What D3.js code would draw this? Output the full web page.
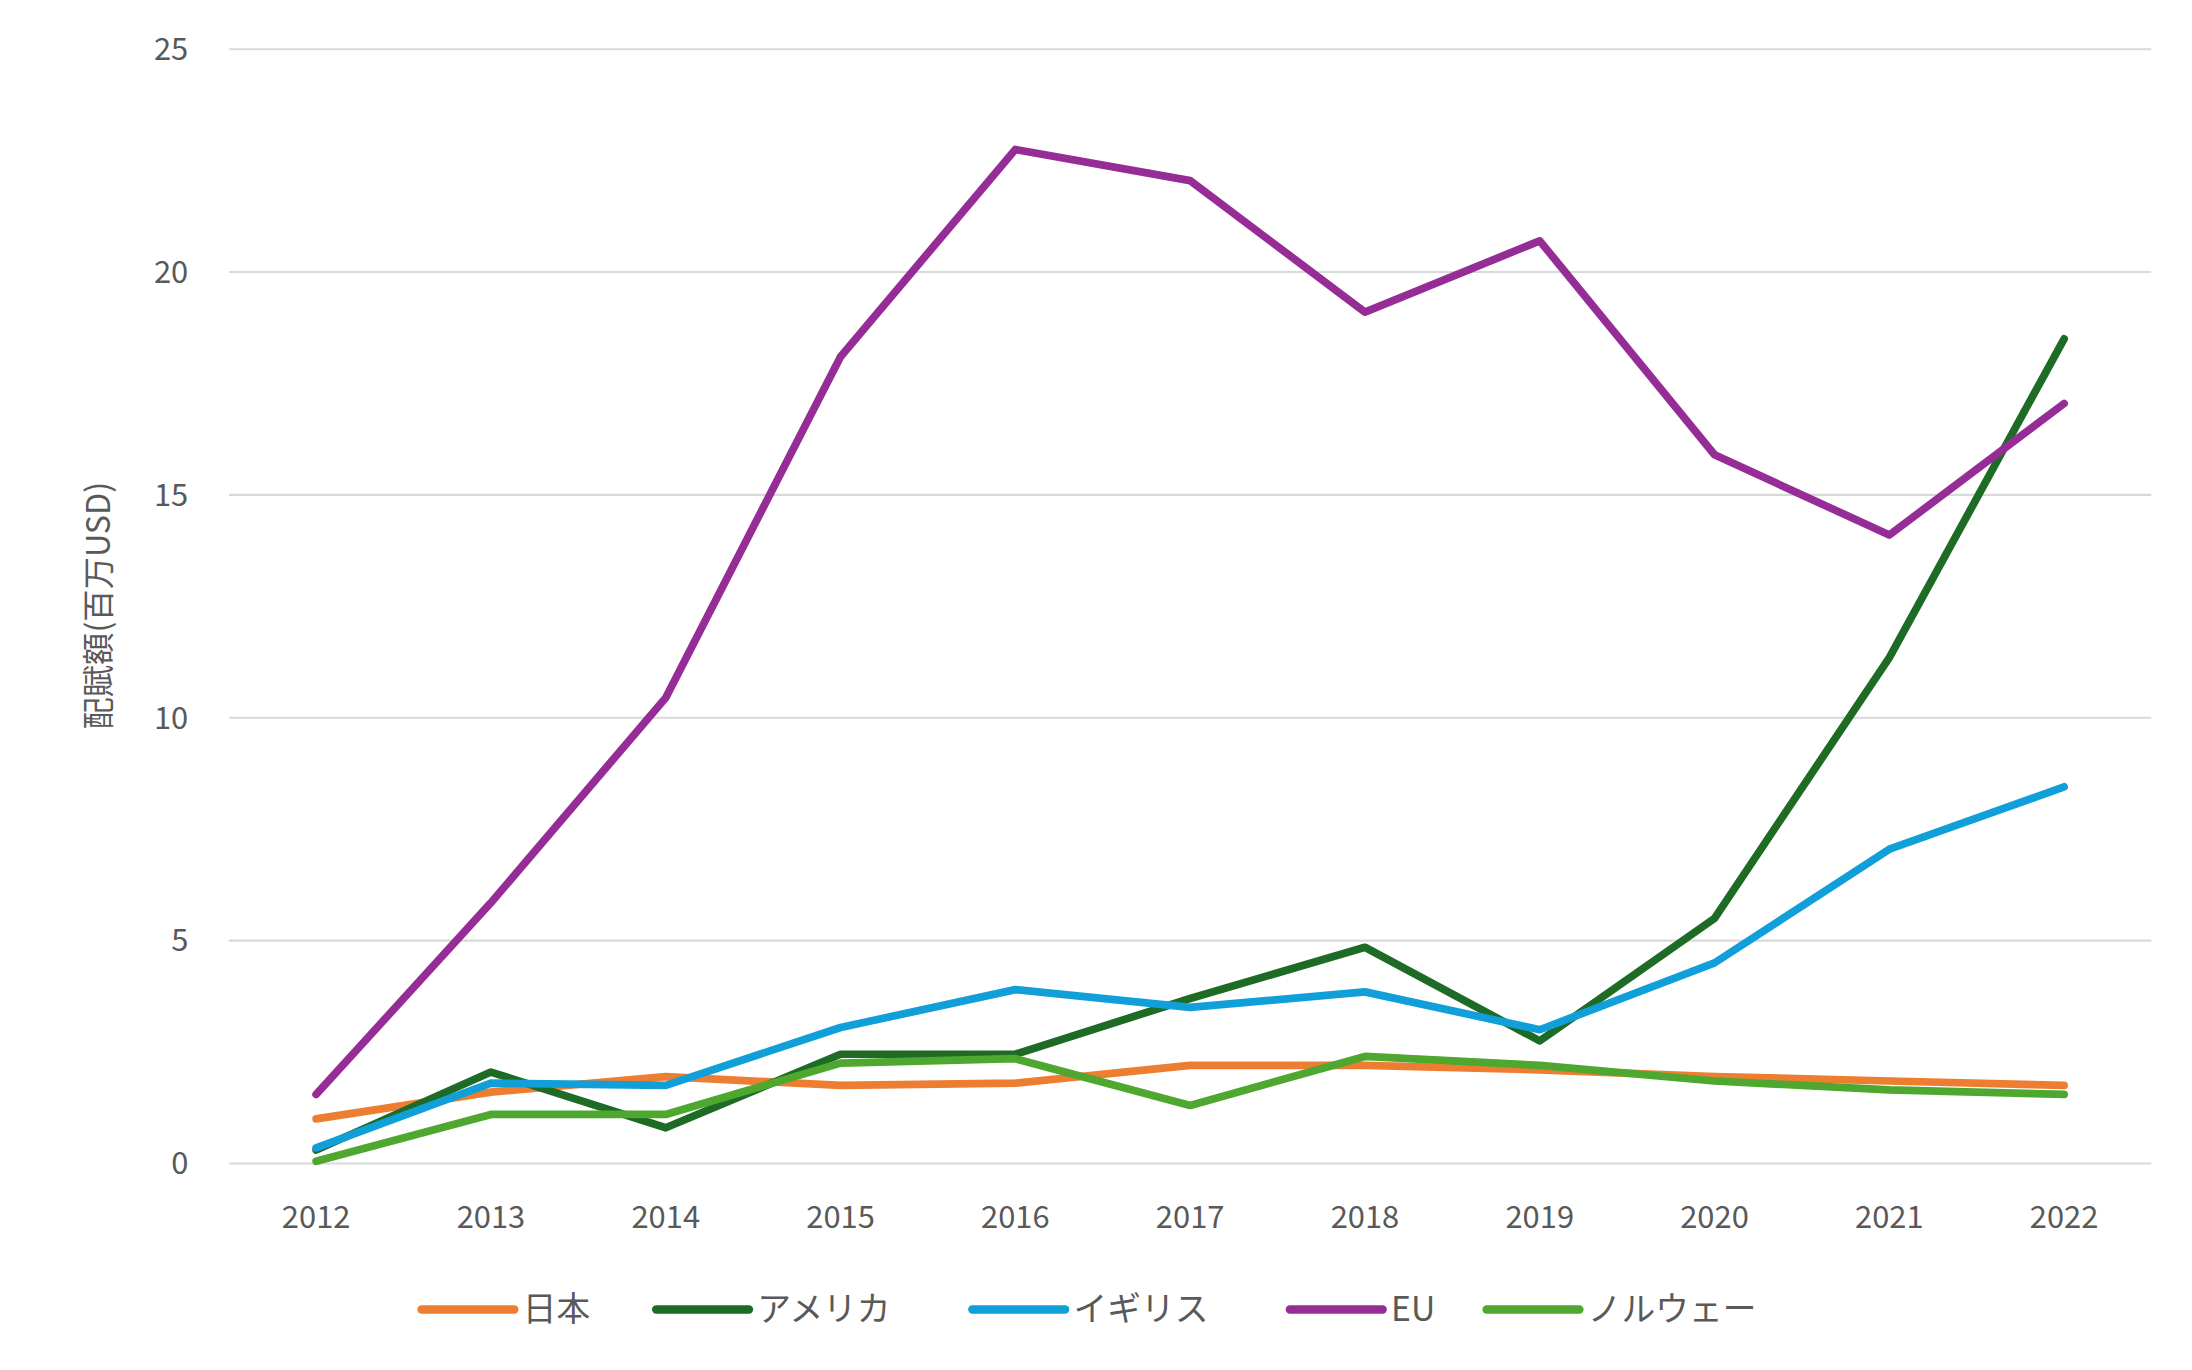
<!DOCTYPE html><html><head><meta charset="utf-8"><script src="https://d3js.org/d3.v7.min.js"></script>
<style>body{margin:0;background:#fff}</style></head><body><svg id="c" width="2192" height="1370" viewBox="0 0 1560 975"></svg>
<script>
const years=["2012","2013","2014","2015","2016","2017","2018","2019","2020","2021","2022"];
const japan=[1.0,1.6,1.95,1.75,1.8,2.2,2.2,2.1,1.95,1.85,1.75];
const usa=[0.3,2.05,0.8,2.45,2.45,3.7,4.85,2.75,5.5,11.35,18.5];
const uk=[0.35,1.8,1.75,3.05,3.9,3.5,3.85,3.0,4.5,7.05,8.45];
const eu=[1.55,5.85,10.45,18.1,22.75,22.05,19.1,20.7,15.9,14.1,17.05];
const norway=[0.05,1.1,1.1,2.25,2.35,1.3,2.4,2.2,1.85,1.65,1.55];
const yTicks=[0,5,10,15,20,25];
const series=[{name:"日本",v:japan,c:"#ED7D31"},{name:"アメリカ",v:usa,c:"#1E6B25"},{name:"イギリス",v:uk,c:"#109FD8"},{name:"EU",v:eu,c:"#962C96"},{name:"ノルウェー",v:norway,c:"#4EA72E"}];
const svg=d3.select("#c");
const font="'Noto Sans CJK JP','Open Sans',sans-serif";
const x=d3.scalePoint().domain(years).range([225,1469]);
const y=d3.scaleLinear().domain([0,25]).range([828,35]);
svg.append("g").selectAll("line").data(yTicks).join("line").attr("x1",163).attr("x2",1531).attr("y1",d=>y(d)).attr("y2",d=>y(d)).attr("stroke","#d9d9d9").attr("stroke-width",1.5);
svg.append("g").selectAll("text").data(yTicks).join("text").attr("x",134).attr("y",d=>y(d)).attr("dy","0.35em").attr("text-anchor","end").attr("font-family",font).attr("font-size",22).attr("fill","#595959").text(d=>d);
svg.append("g").selectAll("text").data(years).join("text").attr("x",d=>x(d)).attr("y",866).attr("dy","0.35em").attr("text-anchor","middle").attr("font-family",font).attr("font-size",22).attr("fill","#595959").text(d=>d);
svg.append("text").attr("transform","translate(70,431) rotate(-90)").attr("text-anchor","middle").attr("dy","0.35em").attr("font-family",font).attr("font-size",23).attr("fill","#595959").text("配賦額(百万USD)");
const line=d3.line().x((d,i)=>x(years[i])).y(d=>y(d));
series.forEach(s=>svg.append("path").datum(s.v).attr("d",line).attr("fill","none").attr("stroke",s.c).attr("stroke-width",5.5).attr("stroke-linejoin","round").attr("stroke-linecap","round"));
const lx=[300,467,692,918,1058];
series.forEach((s,i)=>{const g=svg.append("g");
g.append("line").attr("x1",lx[i]).attr("x2",lx[i]+66).attr("y1",932).attr("y2",932).attr("stroke",s.c).attr("stroke-width",6).attr("stroke-linecap","round");
g.append("text").attr("x",lx[i]+72).attr("y",932).attr("dy","0.35em").attr("font-family",font).attr("font-size",24).attr("fill","#595959").text(s.name);});
</script></body></html>
